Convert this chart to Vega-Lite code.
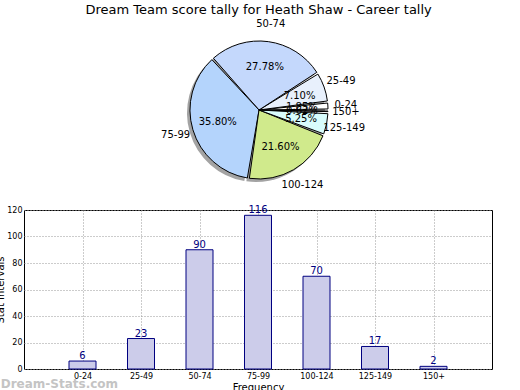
{
  "$schema": "https://vega.github.io/schema/vega-lite/v6.json",
  "background": "white",
  "padding": {"left": -5, "top": 3, "right": 5, "bottom": 0},
  "title": {"text": "Dream Team score tally for Heath Shaw - Career tally", "fontSize": 13, "fontWeight": "normal", "anchor": "middle", "offset": 2, "dx": 14, "color": "black"},
  "datasets": {
    "d": [
      {"i": 1, "bin": "0-24", "n": 6, "pct": "1.85%"},
      {"i": 2, "bin": "25-49", "n": 23, "pct": "7.10%"},
      {"i": 3, "bin": "50-74", "n": 90, "pct": "27.78%"},
      {"i": 4, "bin": "75-99", "n": 116, "pct": "35.80%"},
      {"i": 5, "bin": "100-124", "n": 70, "pct": "21.60%"},
      {"i": 6, "bin": "125-149", "n": 17, "pct": "5.25%"},
      {"i": 7, "bin": "150+", "n": 2, "pct": "0.62%"}
    ]
  },
  "spacing": 13,
  "vconcat": [
    {
      "width": 470,
      "height": 160,
      "data": {"name": "d"},
      "view": {"stroke": null},
      "layer": [
        {
          "mark": {"type": "arc", "outerRadius": 69, "fill": "#666666", "opacity": 0.6, "xOffset": -3, "yOffset": 3, "padAngle": 0.03},
          "encoding": {
            "theta": {"field": "n", "type": "quantitative", "stack": true, "scale": {"range": [1.5708, -4.7124]}},
            "order": {"field": "i", "type": "quantitative"}
          }
        },
        {
          "mark": {"type": "arc", "outerRadius": 69, "stroke": "black", "strokeWidth": 1, "padAngle": 0.03},
          "encoding": {
            "theta": {"field": "n", "type": "quantitative", "stack": true, "scale": {"range": [1.5708, -4.7124]}},
            "order": {"field": "i", "type": "quantitative"},
            "color": {"field": "bin", "type": "nominal", "legend": null,
              "scale": {"domain": ["0-24", "25-49", "50-74", "75-99", "100-124", "125-149", "150+"],
                        "range": ["#ffffff", "#e8f0fc", "#c4d8fc", "#b4d4fc", "#d0ea8c", "#d8fcfc", "#ffffff"]}}
          }
        },
        {
          "mark": {"type": "text", "radius": 43, "fontSize": 10, "color": "black"},
          "encoding": {
            "theta": {"field": "n", "type": "quantitative", "stack": true, "scale": {"range": [1.5708, -4.7124]}},
            "order": {"field": "i", "type": "quantitative"},
            "text": {"field": "pct", "type": "nominal"}
          }
        },
        {
          "mark": {"type": "text", "radius": 87, "fontSize": 10, "color": "black"},
          "encoding": {
            "theta": {"field": "n", "type": "quantitative", "stack": true, "scale": {"range": [1.5708, -4.7124]}},
            "order": {"field": "i", "type": "quantitative"},
            "text": {"field": "bin", "type": "nominal"}
          }
        }
      ]
    },
    {
      "width": 468,
      "height": 159,
      "data": {"name": "d"},
      "view": {"stroke": "black", "strokeWidth": 1},
      "title": {"text": "Dream-Stats.com", "orient": "bottom", "anchor": "start", "frame": "bounds", "dx": 5, "color": "#c4c4c4", "fontSize": 12, "fontWeight": "bold", "offset": -13},
      "encoding": {
        "x": {"field": "bin", "type": "ordinal",
          "sort": ["0-24", "25-49", "50-74", "75-99", "100-124", "125-149", "150+"],
          "scale": {"type": "point", "padding": 1},
          "axis": {"title": "Frequency", "titleFontSize": 10, "titleFontWeight": "normal", "titlePadding": 2, "labelFontSize": 8, "labelAngle": 0, "labelPadding": 3, "tickSize": 0, "domain": false, "grid": true, "gridDash": [1, 2], "gridColor": "#999999", "labelColor": "black", "titleColor": "black"}},
        "y": {"field": "n", "type": "quantitative", "scale": {"domain": [0, 120], "nice": false},
          "axis": {"title": "Stat Intervals", "values": [0, 20, 40, 60, 80, 100, 120], "labelOverlap": false, "titleFontSize": 10, "titleFontWeight": "normal", "titlePadding": 1, "labelFontSize": 8, "labelPadding": 2, "tickSize": 0, "domain": false, "grid": true, "gridDash": [1, 2], "gridColor": "#999999", "labelColor": "black", "titleColor": "black"}}
      },
      "layer": [
        {
          "mark": {"type": "bar", "width": 27, "fill": "#ccccea", "stroke": "#000080", "strokeWidth": 1}
        },
        {
          "mark": {"type": "text", "baseline": "bottom", "dy": 0, "color": "#000080", "fontSize": 10},
          "encoding": {
            "text": {"field": "n", "type": "quantitative"}
          }
        }
      ]
    }
  ],
  "config": {"font": "DejaVu Sans"}
}
